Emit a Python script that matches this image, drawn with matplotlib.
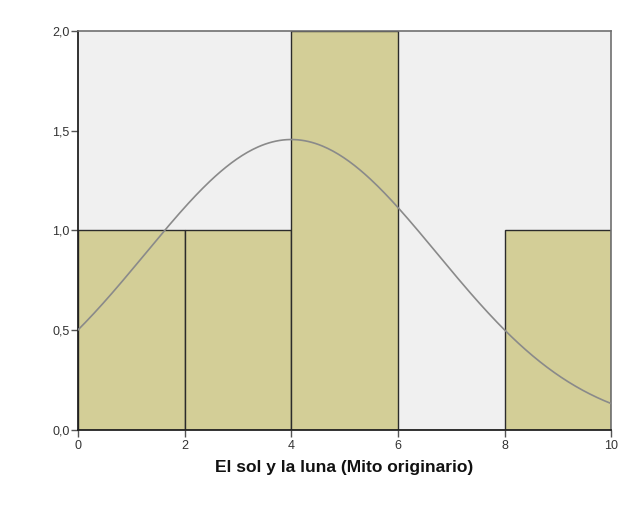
import numpy as np
import matplotlib.pyplot as plt

# histogram bins (bin edges) and frequencies
bin_edges = [0, 2, 4, 6, 8, 10]
counts = [1, 1, 2, 0, 1]

# normal curve parameters
n_cases = 5
mean = 4.0
std_dev = 2.74

y_ticks = [0.0, 0.5, 1.0, 1.5, 2.0]
x_ticks = [0, 2, 4, 6, 8, 10]

plt.rcParams['font.family'] = ['Liberation Sans', 'DejaVu Sans']

fig = plt.figure(figsize=(6.42, 5.21), dpi=100)
ax = fig.add_axes([0.1215, 0.1747, 0.8305, 0.7658])
ax.set_facecolor('#F0F0F0')

widths = np.diff(bin_edges)
ax.bar(bin_edges[:-1], counts, width=widths, align='edge',
       color='#D3CE97', edgecolor='#2b2b2b', linewidth=1.0, zorder=2)

# fitted normal curve scaled to counts
xs = np.linspace(0, 10, 300)
bw = bin_edges[1] - bin_edges[0]
ys = n_cases * bw / (std_dev * np.sqrt(2 * np.pi)) * np.exp(-(xs - mean) ** 2 / (2 * std_dev ** 2))
ax.plot(xs, ys, color='#8a8a8a', linewidth=1.2, zorder=3)

ax.set_xlim(0, 10)
ax.set_ylim(0, 2.0)
ax.set_xticks(x_ticks)
ax.set_yticks(y_ticks)
ax.set_yticklabels([f"{v:.1f}".replace('.', ',') for v in y_ticks])
ax.tick_params(axis='both', labelsize=9, color='#555555', labelcolor='#333333',
               length=5, width=1.0, pad=1)
ax.tick_params(axis='x', pad=2)

for side in ['left', 'bottom']:
    ax.spines[side].set_color('#222222')
    ax.spines[side].set_linewidth(1.3)
for side in ['top', 'right']:
    ax.spines[side].set_color('#707070')
    ax.spines[side].set_linewidth(1.2)

ax.set_xlabel('El sol y la luna (Mito originario)', fontsize=12.5, fontweight='bold',
              color='#111111', labelpad=6)

fig.savefig('out.png', dpi=100)
